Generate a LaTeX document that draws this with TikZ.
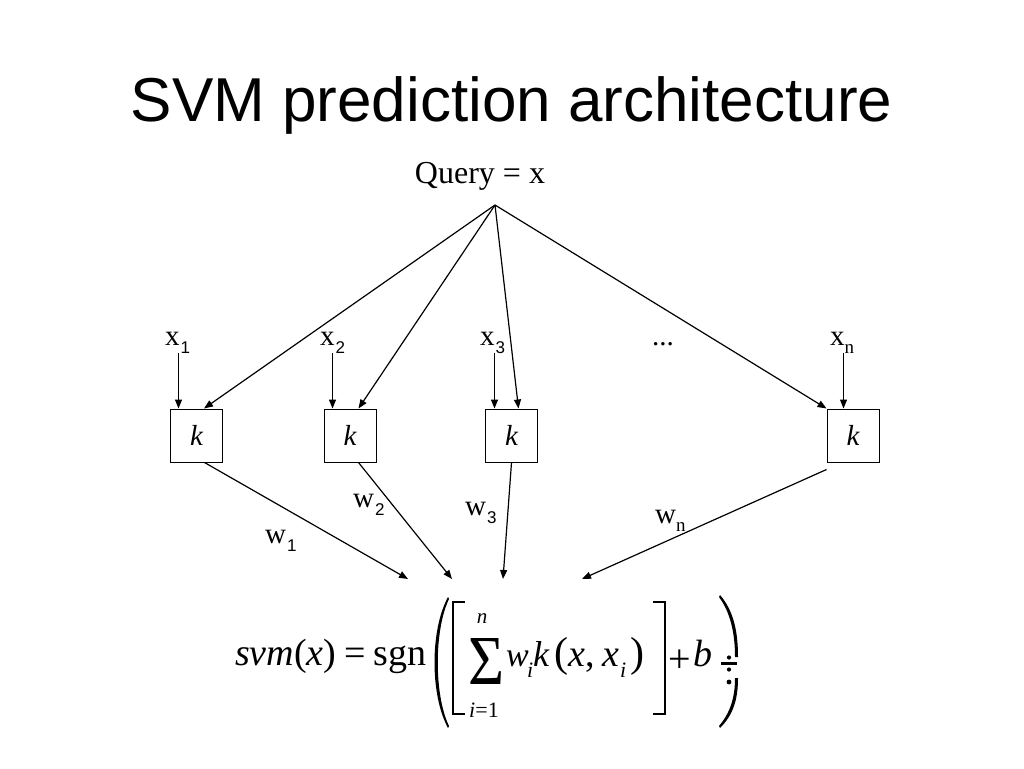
\documentclass[tikz,border=0pt]{standalone}
\usepackage{graphicx}
\usepackage{fontspec}
\setmainfont{Liberation Serif}
\newfontfamily\arialf{Liberation Sans}
\usetikzlibrary{arrows.meta,calc}
\newcommand{\myfs}[1]{\fontsize{#1}{#1}\selectfont}
\newcommand{\mydsub}[1]{\kern1pt\raisebox{-8pt}{\arialf\myfs{17}#1}}
\newcommand{\mynsub}{\raisebox{-8pt}{\myfs{19}n}}
\begin{document}
\begin{tikzpicture}[x=1pt,y=-1pt,
  arr/.style={line width=1.2pt,-{Triangle[length=9pt,width=7pt]}},
  kbox/.style={draw,line width=1pt,minimum width=52pt,minimum height=53pt,inner sep=0pt,font=\myfs{29}\itshape},
  lbl/.style={anchor=base west,inner sep=0pt,font=\myfs{29}},
  fml/.style={anchor=base west,inner sep=0pt,font=\myfs{38}},
  small/.style={anchor=center,inner sep=0pt,font=\myfs{22}},
  brk/.style={line width=2.6pt}
]
\useasboundingbox[fill=white] (0,0) rectangle (1024,768);

% title
\node[anchor=base,inner sep=0pt,font=\arialf\myfs{62}] (title) at (511.5,121) {SVM prediction architecture};

% query
\node[anchor=base,inner sep=0pt,font=\myfs{32}] (q) at (480,183) {Query = x};
\coordinate (apex) at (495,205);

% kernel boxes
\node[kbox] (k1) at (196.5,435.5) {\raisebox{-3pt}{k}};
\node[kbox] (k2) at (350,435.5) {\raisebox{-3pt}{k}};
\node[kbox] (k3) at (511.5,435.5) {\raisebox{-3pt}{k}};
\node[kbox] (k4) at (853,435.5) {\raisebox{-3pt}{k}};

% support vector labels
\node[lbl] (x1) at (165,345) {x\mydsub{1}};
\node[lbl] (x2) at (320,345) {x\mydsub{2}};
\node[lbl] (x3) at (480,345) {x\mydsub{3}};
\node[lbl] (dots) at (652,345) {...};
\node[lbl] (xn) at (830,345) {x\mynsub};

% weight labels
\node[lbl] (w1) at (265,543) {w\mydsub{1}};
\node[lbl] (w2) at (353,507) {w\mydsub{2}};
\node[lbl] (w3) at (465,515) {w\mydsub{3}};
\node[lbl] (wn) at (655,523) {w\mynsub};

% query arrows
\draw[arr] (apex) -- ([xshift=34pt]k1.north west);
\draw[arr] (apex) -- ([xshift=35pt]k2.north west);
\draw[arr] (apex) -- ([xshift=33.5pt]k3.north west);
\draw[arr] (apex) -- (k4.north west);

% support vector arrows
\draw[arr] ([xshift=8.5pt]k1.north west |- x1.south) -- ([xshift=8.5pt]k1.north west);
\draw[arr] ([xshift=9pt]k2.north west |- x2.south) -- ([xshift=9pt]k2.north west);
\draw[arr] ([xshift=9.5pt]k3.north west |- x3.south) -- ([xshift=9.5pt]k3.north west);
\draw[arr] ([xshift=17pt]k4.north west |- xn.south) -- ([xshift=17pt]k4.north west);

% output arrows
\coordinate (t1) at (408,579);
\coordinate (t2) at (452,579);
\coordinate (t3) at (503,579);
\coordinate (t4) at (582,579);
\draw[arr] ([xshift=34.5pt]k1.south west) -- (t1);
\draw[arr] ([xshift=35pt]k2.south west) -- (t2);
\draw[arr] ([xshift=26.5pt]k3.south west) -- (t3);
\draw[arr] ([yshift=-7pt]k4.south west) -- (t4);

% formula
\node[fml] (f1) at (235,665) {\textit{svm}(\textit{x})\hspace{8pt}=\hspace{8pt}sgn};
% big left paren
\fill (448,597) .. controls (430,630) and (430,695) .. (448,728)
  -- (449,726) .. controls (434,695) and (434,630) .. (449,599) -- cycle;
% brackets
\draw[brk] (465,602) -- (453,602) -- (453,714) -- (465,714);
\draw[brk] (653,602) -- (665,602) -- (665,714) -- (653,714);
% sum
\node[anchor=center,inner sep=0pt] (sum) at (486,661) {\resizebox*{36pt}{46pt}{Σ}};
\node[small,font=\myfs{21}\itshape] (nup) at (482,619) {n};
\node[small] (ilow) at (484,710) {\textit{i}=1};
\node[fml,font=\myfs{34}\itshape] (wi) at (506,666) {w};
\node[fml,font=\myfs{22}\itshape] (wsub) at (527,677) {i};
\node[fml,font=\myfs{36}\itshape] (kk) at (533,666) {k};
\node[fml,font=\myfs{42}] (lp) at (554,666) {(};
\node[fml] (xa) at (568,666) {\textit{x},};
\node[fml] (xb) at (602,666) {\textit{x}};
\node[fml,font=\myfs{22}\itshape] (xsub) at (620,677) {i};
\node[fml,font=\myfs{42}] (rp) at (630,666) {)};
\node[anchor=center,inner sep=0pt,font=\myfs{40}] (plus) at (679.5,661) {+};
\node[fml] (bb) at (693,666) {\textit{b}};
% broken right paren with its glyph fragments
\draw[line width=2.2pt] (721,663.5) -- (737,663.5);
\fill (729,657.5) circle (2.1pt);
\fill (729,669.5) circle (2.1pt);
\fill (729,682) circle (2.4pt);
\fill (720,595) .. controls (733,610) and (738,630) .. (738,657)
  -- (735,657) .. controls (735,632) and (730,612) .. (719,597) -- cycle;
\fill (738,678) .. controls (738,700) and (733,715) .. (720,728)
  -- (719,726) .. controls (730,713) and (735,698) .. (735,678) -- cycle;
\end{tikzpicture}
\end{document}
